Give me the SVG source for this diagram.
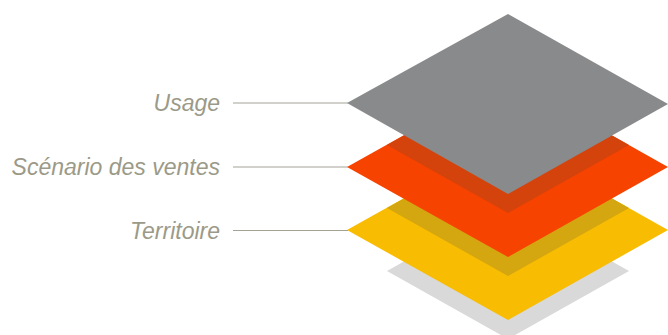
<svg xmlns="http://www.w3.org/2000/svg" width="668" height="335" viewBox="0 0 668 335">
<style>
.lbl{font-family:"Liberation Sans",Arial,sans-serif;font-style:italic;font-size:23px;fill:#9b9a88;text-anchor:end}
.conn{stroke:#a3a295;stroke-width:1.2;fill:none}
</style>
<rect width="668" height="335" fill="#ffffff"/>
<g id="shadow-base">
<polygon points="508,203 629,271 508,339 387,271" fill="#d9d9d9"/>
</g>
<g id="layer-territoire">
<polygon points="508,140 668,230 508,320 347,230" fill="#f8bc02"/>
<polygon points="508,140 629,208 508,276 387,208" fill="#d4a60f"/>
</g>
<g id="layer-scenario">
<polygon points="508,77 668,167 508,257 347,167" fill="#f74300"/>
<polygon points="508,77 629,145 508,213 387,145" fill="#d4430c"/>
</g>
<g id="layer-usage">
<polygon points="508,14 668,104 508,194 347,103" fill="#898a8b"/>
</g>
<g id="connectors">
<line class="conn" x1="233" y1="103" x2="348" y2="103"/>
<line class="conn" x1="233" y1="167" x2="348" y2="167"/>
<line class="conn" x1="233" y1="230.5" x2="348" y2="230.5"/>
</g>
<g id="label-usage"><text class="lbl" x="220" y="111">Usage</text></g>
<g id="label-scenario"><text class="lbl" x="220" y="175">Scénario des ventes</text></g>
<g id="label-territoire"><text class="lbl" x="220" y="238.5">Territoire</text></g>
</svg>
